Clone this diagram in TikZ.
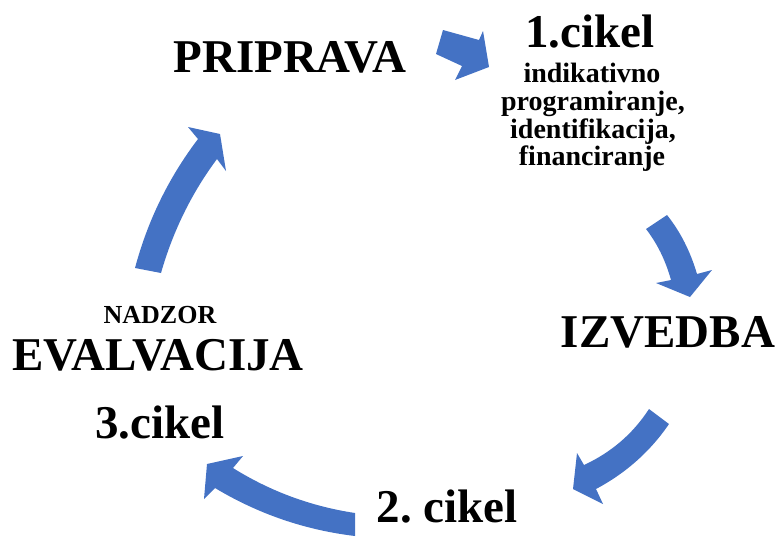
\documentclass[tikz,border=0pt]{standalone}
\usepackage{fontspec}
\setmainfont{Liberation Serif}
\usetikzlibrary{calc}
\definecolor{arrblue}{HTML}{4472C4}
\frenchspacing
\newcommand{\qto}[3]{.. controls ($(#1)!0.6667!(#2)$) and ($(#3)!0.6667!(#2)$) .. (#3)}
\begin{document}
\begin{tikzpicture}[x=1pt,y=-1pt,
  lbl/.style={inner sep=0pt, anchor=base},
  big/.style={lbl, font=\bfseries\fontsize{47}{47}\selectfont},
  mid/.style={lbl, font=\bfseries\fontsize{47}{47}\selectfont},
  small/.style={lbl, font=\bfseries\fontsize{28}{28}\selectfont},
  tiny/.style={lbl, font=\bfseries\fontsize{26}{26}\selectfont},
  blockarrow/.style={fill=arrblue}]
\useasboundingbox (0,0) rectangle (779,536);

% texts
\node[mid]   (priprava) at (290,72)  {PRIPRAVA};
\node[big]   (cikel1)   at (590,47)  {1.cikel};
\node[small] (l1)       at (592,82)  {indikativno};
\node[small] (l2)       at (593,110) {programiranje,};
\node[small] (l3)       at (593,138) {identifikacija,};
\node[small] (l4)       at (592,165) {financiranje};
\node[big]   (izvedba)  at (668,347) {IZVEDBA};
\node[big]   (cikel2)   at (447,522) {2. cikel};
\node[tiny]  (nadzor)   at (160,323) {NADZOR};
\node[mid]   (evalv)    at (158,370) {EVALVACIJA};
\node[big]   (cikel3)   at (160,438) {3.cikel};

% block arrows
\fill[blockarrow] (436,54) -- (443,30) -- (479,40) -- (483,31) -- (489,67) -- (455,80) -- (462,66) -- cycle;

\coordinate (b2a) at (646,229); \coordinate (b2b) at (667,215);
\coordinate (b2c) at (697,274); \coordinate (b2g) at (671,280);
\coordinate (b2o) at (687,240); \coordinate (b2i) at (663,251);
\fill[blockarrow] (b2a) -- (b2b) \qto{b2b}{b2o}{b2c} -- (712,270) -- (690,297) -- (656,283) -- (b2g) \qto{b2g}{b2i}{b2a} -- cycle;

\coordinate (b3a) at (649,409); \coordinate (b3b) at (669,424);
\coordinate (b3c) at (596,489); \coordinate (b3g) at (584,465);
\coordinate (b3o) at (641,465); \coordinate (b3i) at (625,446);
\fill[blockarrow] (b3a) -- (b3b) \qto{b3b}{b3o}{b3c} -- (603,504) -- (573,489) -- (577,453) -- (b3g) \qto{b3g}{b3i}{b3a} -- cycle;

\coordinate (b4a) at (355,513); \coordinate (b4b) at (355,536);
\coordinate (b4c) at (215,488); \coordinate (b4g) at (233,468);
\coordinate (b4o) at (280,527); \coordinate (b4i) at (289,503);
\fill[blockarrow] (b4a) -- (b4b) \qto{b4b}{b4o}{b4c} -- (204,499) -- (207,464) -- (243,456) -- (b4g) \qto{b4g}{b4i}{b4a} -- cycle;

\coordinate (b5a) at (161,273); \coordinate (b5b) at (135,268);
\coordinate (b5c) at (198,139); \coordinate (b5g) at (217,159);
\coordinate (b5o) at (154,197); \coordinate (b5i) at (179,210);
\fill[blockarrow] (b5a) -- (b5b) \qto{b5b}{b5o}{b5c} -- (188,127) -- (220,134) -- (226,171) -- (b5g) \qto{b5g}{b5i}{b5a} -- cycle;
\end{tikzpicture}
\end{document}
